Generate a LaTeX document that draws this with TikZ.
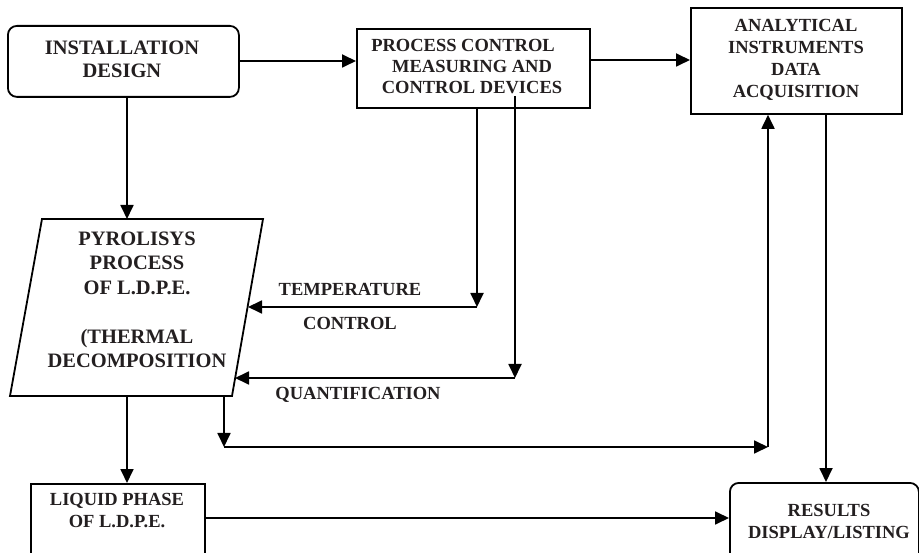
\documentclass[tikz,border=0pt]{standalone}
\usepackage{fontspec}
\setmainfont{Liberation Serif}
\usetikzlibrary{arrows.meta,calc}
\definecolor{txt}{HTML}{231F20}
\begin{document}
\begin{tikzpicture}[x=1pt,y=-1pt,
  box/.style={draw=black,line width=1.8pt,inner sep=0pt,anchor=north west},
  rbox/.style={box,rounded corners=9pt},
  lbl/.style={text=txt,font=\bfseries\fontsize{18.5}{22}\selectfont,align=center,inner sep=0pt},
  biglbl/.style={text=txt,font=\bfseries\fontsize{20.5}{23.5}\selectfont,align=center,inner sep=0pt},
  conn/.style={draw=black,line width=1.8pt},
  arr/.style={conn,-{Triangle[length=14pt,width=13pt]}}]
\useasboundingbox (0,0) rectangle (919,553);
\clip (0,0) rectangle (919,553);
% boxes
\node[rbox,minimum width=231pt,minimum height=71pt] (inst) at (7,25) {};
\node[box,minimum width=233pt,minimum height=79pt] (proc) at (356,28) {};
\node[box,minimum width=211pt,minimum height=106pt] (anal) at (690,7) {};
\node[box,minimum width=174pt,minimum height=90pt] (liq) at (30,483) {};
\node[rbox,minimum width=189pt,minimum height=90pt] (res) at (729,482) {};
% parallelogram
\coordinate (pTL) at (42,219);
\coordinate (pTR) at (263,219);
\coordinate (pBR) at (232,396);
\coordinate (pBL) at (10,396);
\draw[line width=1.8pt,line join=miter] (pTL) -- (pTR) -- (pBR) -- (pBL) -- cycle;
% texts
\node[biglbl] (instT) at (122,59.5) {INSTALLATION\\DESIGN};
\node[lbl,font=\bfseries\fontsize{18.5}{21}\selectfont] (procT) at (472,67) {PROCESS CONTROL\hspace*{18pt}\\MEASURING AND\\CONTROL DEVICES};
\node[lbl] (analT) at (796,60) {ANALYTICAL\\INSTRUMENTS\\DATA\\ACQUISITION};
\node[biglbl,font=\bfseries\fontsize{20.5}{24.5}\selectfont] (pyroT) at (137,300) {PYROLISYS\\PROCESS\\OF L.D.P.E.\\[24.5pt](THERMAL\\DECOMPOSITION};
\node[lbl] (liqT) at (117,511) {LIQUID PHASE\\OF L.D.P.E.};
\node[lbl] (resT) at (829,521) {RESULTS\\DISPLAY/LISTING};
\node[lbl] (tempL) at (350,289) {TEMPERATURE};
\node[lbl] (ctrlL) at (350,323) {CONTROL};
\node[lbl] (quantL) at (358,395) {QUANTIFICATION};
% connector coordinates
\coordinate (pyroTop) at (127,219);
\coordinate (tempTip) at (248,307);
\coordinate (tCorner) at (477,307);
\coordinate (qStart) at (515,96);
\coordinate (qCorner) at (515,378);
\coordinate (quantTip) at (235,378);
\coordinate (pyroBot) at (127,396);
\coordinate (pyroBot2) at (224,396);
\coordinate (bCorner) at (224,447);
\coordinate (aCorner) at (768,447);
\coordinate (resTop) at (826,482);
% connectors
\draw[arr] (inst.east |- 0,61) -- (proc.west |- 0,61);
\draw[arr] (proc.east |- 0,60) -- (anal.west |- 0,60);
\draw[arr] (inst.south -| pyroTop) -- (pyroTop);
\draw[arr] (proc.south -| tCorner) -- (tCorner);
\draw[arr] (tCorner) -- (tempTip);
\draw[arr] (qStart) -- (qCorner);
\draw[arr] (qCorner) -- (quantTip);
\draw[arr] (pyroBot) -- (liq.north -| pyroBot);
\draw[arr] (pyroBot2) -- (bCorner);
\draw[arr] (bCorner) -- (aCorner);
\draw[arr] (aCorner) -- (anal.south -| aCorner);
\draw[arr] (anal.south -| resTop) -- (resTop);
\draw[arr] (liq.east |- 0,518) -- (res.west |- 0,518);
\end{tikzpicture}
\end{document}
